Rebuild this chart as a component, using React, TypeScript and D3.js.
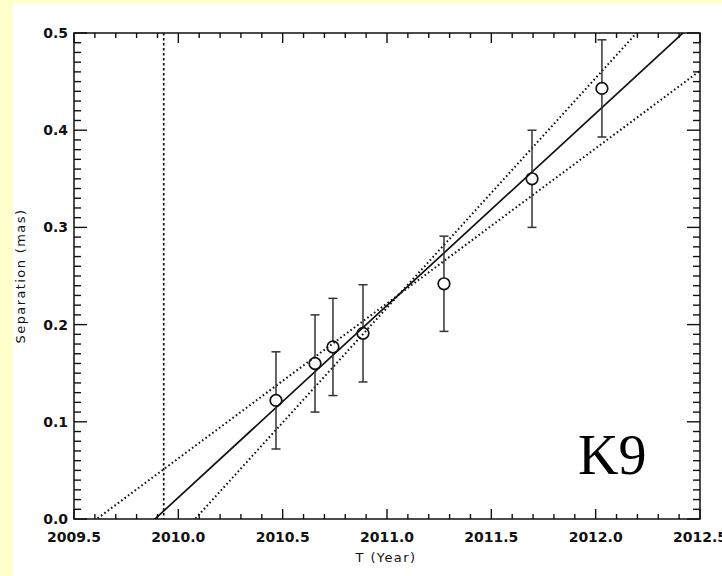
import React from "react";
import * as d3 from "d3";

// Observations
const epochs = [2010.468, 2010.655, 2010.741, 2010.885, 2011.273, 2011.695, 2012.03];
const separations = [0.122, 0.160, 0.177, 0.191, 0.242, 0.350, 0.443];
const sepErrors = [0.05, 0.05, 0.05, 0.05, 0.049, 0.05, 0.05];

// Fit lines: separation = slope * (T - zeroEpoch)
const fitNames = ["best", "shallow", "steep"];
const fitSlopes = [0.1976, 0.1595, 0.2363];
const fitZeroEpochs = [2009.888, 2009.609, 2010.08];
const fitStyles = ["solid", "dotted", "dotted"];

const markerEpoch = 2009.93;

const xTicks = [2009.5, 2010.0, 2010.5, 2011.0, 2011.5, 2012.0, 2012.5];
const yTicks = [0.0, 0.1, 0.2, 0.3, 0.4, 0.5];

const W = 722;
const H = 576;
const L = 74, R = 700, T = 33, B = 519;

export default function App() {
  const x = d3.scaleLinear().domain([2009.5, 2012.5]).range([L, R]);
  const y = d3.scaleLinear().domain([0, 0.5]).range([B, T]);

  const xMinor = d3.range(0, 31).map((i) => 2009.5 + i * 0.1);
  const yMinor = d3.range(0, 51).map((i) => i * 0.01);

  const line = d3
    .line<[number, number]>()
    .x((d) => x(d[0]))
    .y((d) => y(d[1]));

  const axisColor = "#111";
  const tickFont = { fontFamily: "DejaVu Sans", fontSize: 14, fontWeight: 700 as const };

  return (
    <svg width={W} height={H} style={{ position: "absolute", left: 0, top: 0 }}>
      <rect x={0} y={0} width={W} height={H} fill="#FFFFCC" />
      <rect x={13} y={4} width={W - 13} height={H - 4} fill="#FFFFFF" />
      <defs>
        <clipPath id="plotclip">
          <rect x={L} y={T} width={R - L} height={B - T} />
        </clipPath>
      </defs>

      {/* marker vertical line */}
      <line
        x1={x(markerEpoch)}
        x2={x(markerEpoch)}
        y1={T}
        y2={B}
        stroke="#111"
        strokeWidth={1.7}
        strokeDasharray="2.5 2.5"
      />

      {/* fit lines */}
      <g clipPath="url(#plotclip)">
        {fitNames.map((n, i) => {
          const pts: [number, number][] = [2009.5, 2012.5].map((t) => [
            t,
            fitSlopes[i] * (t - fitZeroEpochs[i]),
          ]);
          return (
            <path
              key={n}
              d={line(pts) || ""}
              fill="none"
              stroke="#111"
              strokeWidth={fitStyles[i] === "solid" ? 1.7 : 2}
              strokeDasharray={fitStyles[i] === "solid" ? undefined : "1.6 2.6"}
            />
          );
        })}
      </g>

      {/* error bars and points */}
      {epochs.map((t, i) => {
        const cx = x(t);
        const cy = y(separations[i]);
        const y1 = y(separations[i] + sepErrors[i]);
        const y2 = y(separations[i] - sepErrors[i]);
        return (
          <g key={i} stroke="#333" strokeWidth={1.5} fill="none">
            <line x1={cx} x2={cx} y1={y1} y2={cy - 6} />
            <line x1={cx} x2={cx} y1={cy + 6} y2={y2} />
            <line x1={cx - 4.5} x2={cx + 4.5} y1={y1} y2={y1} />
            <line x1={cx - 4.5} x2={cx + 4.5} y1={y2} y2={y2} />
            <circle cx={cx} cy={cy} r={5.8} stroke="#111" strokeWidth={1.7} />
          </g>
        );
      })}

      {/* frame */}
      <rect x={L} y={T} width={R - L} height={B - T} fill="none" stroke={axisColor} strokeWidth={1.5} />

      {/* x ticks bottom & top */}
      {xMinor.map((t, i) => {
        const major = i % 5 === 0;
        const len = major ? 10 : 5;
        return (
          <g key={"xt" + i} stroke={axisColor} strokeWidth={1.4}>
            <line x1={x(t)} x2={x(t)} y1={B} y2={B - len} />
            <line x1={x(t)} x2={x(t)} y1={T} y2={T + len} />
          </g>
        );
      })}
      {/* y ticks left & right */}
      {yMinor.map((v, i) => {
        const major = i % 10 === 0;
        const len = major ? 13 : 7;
        return (
          <g key={"yt" + i} stroke={axisColor} strokeWidth={1.4}>
            <line x1={L} x2={L + len} y1={y(v)} y2={y(v)} />
            <line x1={R} x2={R - len} y1={y(v)} y2={y(v)} />
          </g>
        );
      })}

      {/* tick labels */}
      {xTicks.map((t) => (
        <text key={"xl" + t} x={x(t)} y={542} textAnchor="middle" fill="#111" {...tickFont}>
          {t.toFixed(1)}
        </text>
      ))}
      {yTicks.map((v) => (
        <text
          key={"yl" + v}
          x={68}
          y={y(v)}
          dy="0.36em"
          textAnchor="end"
          fill="#111"
          {...tickFont}
        >
          {v.toFixed(1)}
        </text>
      ))}

      {/* axis titles */}
      <text
        x={386}
        y={562}
        textAnchor="middle"
        fill="#111"
        fontFamily="DejaVu Sans"
        fontSize={13}
        letterSpacing={1.4}
      >
        T (Year)
      </text>
      <text
        transform={`translate(25, ${(T + B) / 2}) rotate(-90)`}
        textAnchor="middle"
        fill="#111"
        fontFamily="DejaVu Sans"
        fontSize={13}
        letterSpacing={1.4}
      >
        Separation (mas)
      </text>

      <text x={578} y={474} fill="#000" fontFamily="Liberation Serif" fontSize={56}>
        K9
      </text>
    </svg>
  );
}
